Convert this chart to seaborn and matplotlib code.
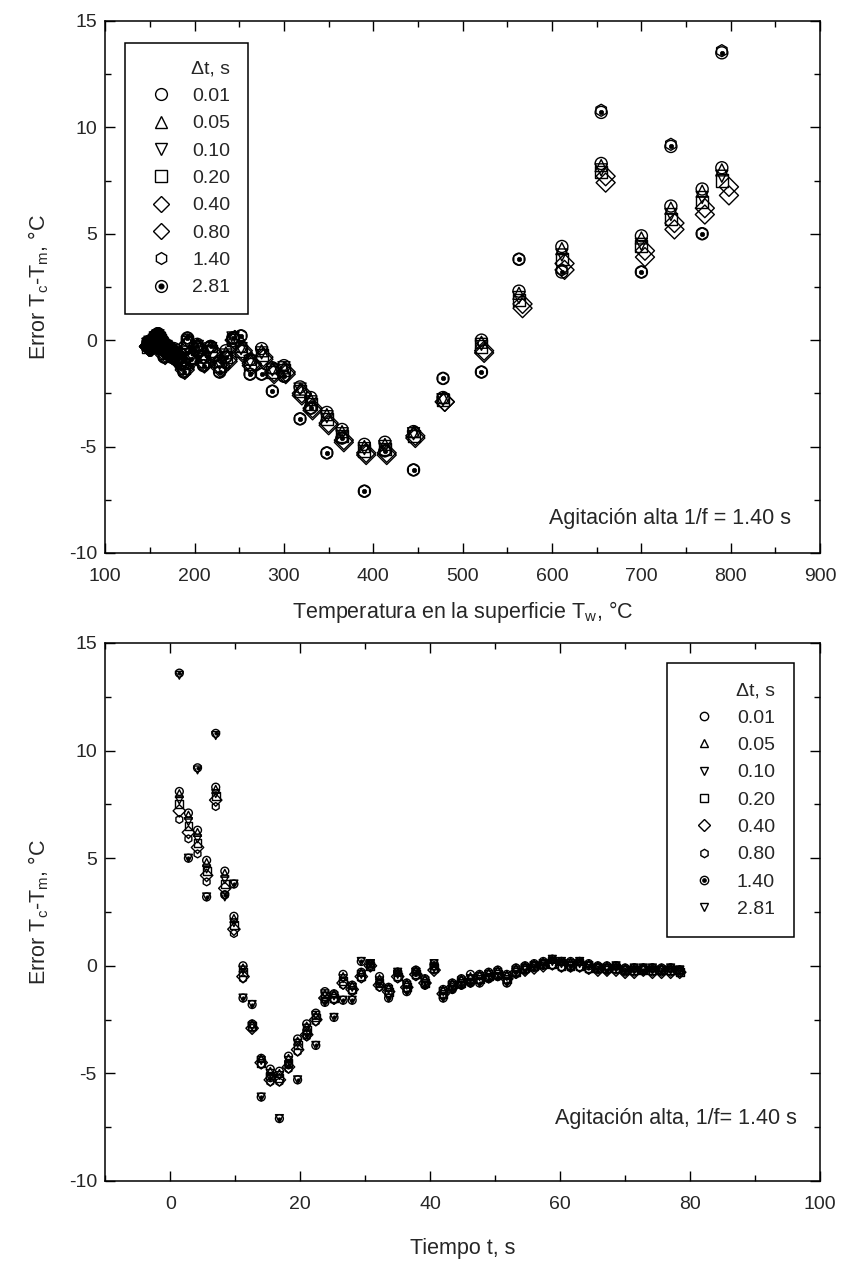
import matplotlib
matplotlib.use("Agg")
import matplotlib.pyplot as plt
from matplotlib.lines import Line2D
from matplotlib.ticker import MultipleLocator
import pandas as pd
import seaborn as sns

# instantes de muestreo (s) y temperatura en la superficie (°C)
tiempo = [1.4, 2.8, 4.2, 5.6, 7.0, 8.4, 9.8, 11.2, 12.6, 14.0, 15.4, 16.8, 18.2, 19.6,
          21.0, 22.4, 23.8, 25.2, 26.6, 28.0, 29.4, 30.8, 32.2, 33.6, 35.0, 36.4, 37.8,
          39.2, 40.6, 42.0, 43.4, 44.8, 46.2, 47.6, 49.0, 50.4, 51.8, 53.2, 54.6, 56.0,
          57.4, 58.8, 60.2, 61.6, 63.0, 64.4, 65.8, 67.2, 68.6, 70.0, 71.4, 72.8, 74.2,
          75.6, 77.0, 78.4]
temp_sup = [790, 768, 733, 700, 655, 611, 563, 521, 478, 445, 413, 390, 365, 348,
            330, 318, 300, 287, 275, 262, 252, 243, 235, 228, 218, 210, 203,
            196, 192, 188, 184, 180, 177, 174, 171, 168, 166, 164, 162, 161,
            160, 159, 158, 157, 156, 155, 154, 153, 152, 151, 150, 150, 149,
            149, 148, 148]
# Tw estimada con los pasos 0.40 y 0.80 s (ligeramente desplazada)
temp_sup_rombo = [798, 771, 737, 704, 660, 614, 567, 524, 480, 447, 415, 392, 367, 350,
                  332, 320, 302, 289, 277, 264, 254, 245, 237, 229, 219, 211, 204,
                  197, 193, 189, 185, 181, 178, 175, 172, 169, 167, 165, 163, 162,
                  161, 160, 159, 158, 157, 156, 155, 154, 153, 152, 151, 151, 150,
                  150, 149, 149]

# error Tc - Tm para cada paso de tiempo
err_001 = [8.1, 7.1, 6.3, 4.9, 8.3, 4.4, 2.3, 0.0, -2.7, -4.3, -4.8, -4.9, -4.2, -3.4,
           -2.7, -2.2, -1.2, -1.3, -0.4, -0.9, -0.3, 0.1, -0.5, -1.0, -0.3, -0.8, -0.2,
           -0.6, 0.0, -1.1, -0.8, -0.6, -0.4, -0.4, -0.3, -0.2, -0.4, -0.1, 0.0, 0.1,
           0.2, 0.3, 0.2, 0.2, 0.2, 0.1, 0.0, 0.0, 0.0, -0.1, -0.1, -0.1, -0.1,
           -0.1, -0.1, -0.2]
err_005 = [8.0, 7.0, 6.2, 4.8, 8.2, 4.3, 2.2, -0.1, -2.7, -4.3, -4.9, -5.0, -4.3, -3.5,
           -2.8, -2.3, -1.3, -1.3, -0.5, -0.9, -0.3, 0.1, -0.6, -1.0, -0.3, -0.8, -0.2,
           -0.6, 0.0, -1.1, -0.8, -0.6, -0.5, -0.4, -0.3, -0.2, -0.4, -0.1, 0.0, 0.1,
           0.2, 0.3, 0.2, 0.2, 0.2, 0.1, 0.0, 0.0, 0.0, -0.1, -0.1, -0.1, -0.1,
           -0.1, -0.1, -0.2]
err_010 = [7.7, 6.7, 5.9, 4.5, 8.0, 4.0, 2.0, -0.2, -2.8, -4.4, -5.0, -5.1, -4.4, -3.6,
           -2.9, -2.3, -1.3, -1.4, -0.6, -1.0, -0.4, 0.1, -0.7, -1.1, -0.4, -0.9, -0.3,
           -0.7, -0.1, -1.2, -0.9, -0.7, -0.6, -0.5, -0.4, -0.3, -0.5, -0.2, -0.1, 0.0,
           0.1, 0.2, 0.1, 0.1, 0.1, 0.0, -0.1, -0.1, -0.1, -0.2, -0.2, -0.1, -0.2,
           -0.2, -0.2, -0.2]
err_020 = [7.5, 6.5, 5.7, 4.4, 7.9, 3.8, 1.9, -0.3, -2.8, -4.5, -5.1, -5.2, -4.5, -3.7,
           -3.0, -2.4, -1.4, -1.5, -0.7, -1.1, -0.5, 0.0, -0.8, -1.2, -0.5, -1.0, -0.4,
           -0.8, -0.1, -1.3, -0.9, -0.8, -0.6, -0.6, -0.5, -0.4, -0.6, -0.3, -0.1, 0.0,
           0.1, 0.1, 0.0, 0.0, 0.0, -0.1, -0.1, -0.1, -0.1, -0.2, -0.2, -0.2, -0.2,
           -0.2, -0.2, -0.3]
err_040 = [7.2, 6.2, 5.5, 4.2, 7.7, 3.6, 1.7, -0.5, -2.9, -4.5, -5.3, -5.3, -4.7, -3.9,
           -3.2, -2.5, -1.5, -1.5, -0.8, -1.1, -0.5, 0.0, -0.9, -1.2, -0.5, -1.0, -0.4,
           -0.8, -0.2, -1.3, -1.0, -0.8, -0.7, -0.6, -0.5, -0.4, -0.6, -0.3, -0.2, -0.1,
           0.0, 0.1, 0.0, 0.0, 0.0, -0.1, -0.2, -0.2, -0.2, -0.3, -0.3, -0.2, -0.3,
           -0.3, -0.3, -0.3]
err_080 = [6.8, 5.9, 5.2, 3.9, 7.4, 3.3, 1.5, -0.6, -2.9, -4.6, -5.4, -5.4, -4.8, -4.0,
           -3.3, -2.6, -1.6, -1.6, -0.9, -1.2, -0.6, 0.0, -1.0, -1.3, -0.6, -1.1, -0.5,
           -0.9, -0.2, -1.4, -1.0, -0.9, -0.8, -0.7, -0.6, -0.5, -0.7, -0.4, -0.2, -0.1,
           0.0, 0.0, -0.1, -0.1, -0.1, -0.2, -0.2, -0.2, -0.2, -0.3, -0.3, -0.2, -0.3,
           -0.3, -0.3, -0.3]
err_140 = [13.6, 5.0, 9.2, 3.2, 10.8, 3.3, 3.8, -1.5, -1.8, -6.1, -5.2, -7.1, -4.6, -5.3,
           -3.2, -3.7, -1.7, -2.4, -1.6, -1.6, 0.2, 0.1, -0.8, -1.5, -0.3, -1.2, -0.3,
           -0.9, 0.1, -1.5, -1.1, -0.9, -0.8, -0.8, -0.6, -0.5, -0.8, -0.3, -0.2, 0.0,
           0.1, 0.3, 0.2, 0.0, 0.2, 0.0, -0.1, -0.2, 0.0, -0.2, -0.1, -0.2, -0.1,
           -0.2, -0.1, -0.2]
err_281 = [13.5, 5.0, 9.1, 3.2, 10.7, 3.2, 3.8, -1.5, -1.8, -6.1, -5.2, -7.1, -4.6, -5.3,
           -3.2, -3.7, -1.7, -2.4, -1.6, -1.6, 0.2, 0.1, -0.8, -1.5, -0.3, -1.2, -0.3,
           -0.9, 0.1, -1.5, -1.1, -0.9, -0.8, -0.8, -0.6, -0.5, -0.8, -0.3, -0.2, 0.0,
           0.1, 0.3, 0.2, 0.0, 0.2, 0.0, -0.1, -0.2, 0.0, -0.2, -0.1, -0.2, -0.1,
           -0.2, -0.1, -0.2]

etiquetas = ["0.01", "0.05", "0.10", "0.20", "0.40", "0.80", "1.40", "2.81"]
errores = [err_001, err_005, err_010, err_020, err_040, err_080, err_140, err_281]
temps = [temp_sup, temp_sup, temp_sup, temp_sup, temp_sup_rombo, temp_sup_rombo,
         temp_sup, temp_sup]

df = pd.concat(
    [pd.DataFrame({"t": tiempo, "Tw": tw, "err": e, "dt": lab})
     for lab, e, tw in zip(etiquetas, errores, temps)],
    ignore_index=True,
)

# marcadores de cada serie ("dot" = circulo con punto central)
marcas_sup = ["o", "^", "v", "s", "D", "D", "h", "dot"]
marcas_inf = ["o", "^", "v", "s", "D", "h", "dot", "v"]

sns.set_theme(style="ticks")
plt.rcParams["font.family"] = ["Liberation Sans", "DejaVu Sans"]
plt.rcParams["mathtext.default"] = "regular"
plt.rcParams["axes.unicode_minus"] = False
plt.rcParams["axes.linewidth"] = 1.1

fig = plt.figure(figsize=(8.42, 12.74), dpi=100)
ax1 = fig.add_axes([0.125, 0.566, 0.849, 0.4176])
ax2 = fig.add_axes([0.125, 0.073, 0.849, 0.4223])


def dibujar(ax, xcol, marcas, s, s_dot):
    for lab, m in zip(etiquetas, marcas):
        sub = df[df["dt"] == lab]
        if m == "dot":
            sns.scatterplot(data=sub, x=xcol, y="err", marker="o", s=s, facecolor="none",
                            edgecolor="black", linewidth=1.0, ax=ax, legend=False, zorder=3)
            sns.scatterplot(data=sub, x=xcol, y="err", marker="o", s=s_dot, facecolor="black",
                            edgecolor="black", linewidth=0.5, ax=ax, legend=False, zorder=3)
        else:
            size = s * 1.25 if m == "D" else s
            sns.scatterplot(data=sub, x=xcol, y="err", marker=m, s=size, facecolor="none",
                            edgecolor="black", linewidth=1.0, ax=ax, legend=False, zorder=3)


def leyenda(ax, marcas, ms, loc, anchor, pad, hlen, htp):
    handles = []
    for m in marcas:
        if m == "dot":
            h = (Line2D([], [], marker="o", ls="none", ms=ms, mfc="none", mec="black", mew=1.0),
                 Line2D([], [], marker="o", ls="none", ms=ms * 0.4, mfc="black", mec="black"))
        else:
            h = Line2D([], [], marker=m, ls="none", ms=ms, mfc="none", mec="black", mew=1.0)
        handles.append(h)
    leg = ax.legend(handles, etiquetas, title="\u0394t, s", loc=loc, bbox_to_anchor=anchor,
                    borderaxespad=0, frameon=True, fancybox=False, framealpha=1,
                    edgecolor="black", fontsize=14, title_fontsize=14, labelspacing=0.5,
                    handletextpad=htp, borderpad=pad, handlelength=hlen, alignment="right")
    leg.get_frame().set_linewidth(1.1)


def ejes(ax):
    ax.tick_params(which="both", direction="in", top=True, right=True, labelsize=14,
                   color="black", width=1.0)
    ax.tick_params(axis="x", which="both", pad=11)
    ax.tick_params(axis="y", which="both", pad=6)
    ax.tick_params(which="major", length=7)
    ax.tick_params(which="minor", length=4)
    ax.yaxis.set_major_locator(MultipleLocator(5))
    ax.yaxis.set_minor_locator(MultipleLocator(2.5))
    for sp in ax.spines.values():
        sp.set_color("black")


# ---- panel superior: error vs temperatura de superficie
dibujar(ax1, "Tw", marcas_sup, 75, 10)
ax1.set_xlim(100, 900)
ax1.set_ylim(-10, 15)
ax1.xaxis.set_major_locator(MultipleLocator(100))
ax1.xaxis.set_minor_locator(MultipleLocator(50))
ejes(ax1)
ax1.set_xlabel("Temperatura en la superficie T$_w$, °C", fontsize=15.5, labelpad=10)
ax1.set_ylabel("Error T$_c$-T$_m$, °C", fontsize=15.5, labelpad=13)
ax1.text(867, -8.4, "Agitación alta 1/f = 1.40 s", ha="right", va="center", fontsize=15.5)
leyenda(ax1, marcas_sup, 8.5, "upper left", (0.028, 0.958), 0.9, 1.9, 0.65)

# ---- panel inferior: error vs tiempo
dibujar(ax2, "t", marcas_inf, 32, 6)
ax2.set_xlim(-10, 100)
ax2.set_ylim(-10, 15)
ax2.xaxis.set_major_locator(MultipleLocator(20))
ax2.xaxis.set_minor_locator(MultipleLocator(10))
ejes(ax2)
ax2.set_xlabel("Tiempo t, s", fontsize=15.5, labelpad=18)
ax2.set_ylabel("Error T$_c$-T$_m$, °C", fontsize=15.5, labelpad=13)
ax2.text(96.5, -7.1, "Agitación alta, 1/f= 1.40 s", ha="right", va="center", fontsize=15.5)
leyenda(ax2, marcas_inf, 6, "upper right", (0.964, 0.963), 1.0, 1.8, 0.8)

fig.savefig("out.png", dpi=100)
plt.close(fig)
